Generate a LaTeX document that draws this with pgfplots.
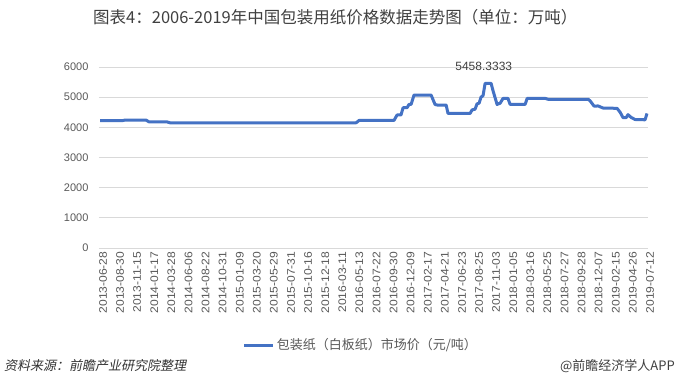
\documentclass[border=0pt]{standalone}
\usepackage{pgfplots}
\pgfplotsset{compat=1.18}
\usepackage{fontspec}
\setmainfont{Liberation Sans}
\newfontfamily\ticksfont[FakeStretch=1.1]{Liberation Sans}
\newfontfamily\cjk{Noto Sans CJK SC}
\newfontfamily\cjkit[FakeSlant=0.2]{Noto Sans CJK SC}
\definecolor{lineblue}{HTML}{4472C4}
\definecolor{gridgray}{HTML}{D9D9D9}
\definecolor{ticktext}{HTML}{595959}
\definecolor{titletext}{HTML}{404040}

\begin{document}
\begin{tikzpicture}
\fill[white] (0,0) rectangle (686pt,389pt);
\path[use as bounding box] (0,0) rectangle (686pt,389pt);
\node[anchor=west, inner sep=0pt, text=titletext, font=\cjk\fontsize{16.5}{18}\selectfont] at (93pt,372pt) {图表4：2006-2019年中国包装用纸价格数据走势图（单位：万吨）};
\begin{axis}[
  at={(99pt,141pt)}, anchor=south west,
  scale only axis, width=549pt, height=181pt,
  xmin=-0.06, xmax=32.06, ymin=0, ymax=6000,
  xtick={0,...,32},
  xticklabels={2013-06-28,2013-08-30,2013-11-15,2014-01-17,2014-03-28,2014-06-06,2014-08-22,2014-10-31,2015-01-09,2015-03-20,2015-05-29,2015-07-31,2015-10-16,2015-12-18,2016-03-11,2016-05-13,2016-07-22,2016-09-30,2016-12-09,2017-02-17,2017-04-21,2017-06-23,2017-08-25,2017-11-03,2018-01-05,2018-03-16,2018-05-25,2018-07-27,2018-09-28,2018-12-07,2019-02-15,2019-04-26,2019-07-12},
  ytick={0,1000,...,6000},
  /pgf/number format/1000 sep={},
  /pgf/number format/assume math mode=true,
  axis line style={draw=none},
  major tick length=0pt,
  ymajorgrids,
  grid style={gridgray, line width=0.8pt},
  xticklabel style={rotate=90, anchor=east, yshift=-3pt, font=\ticksfont\fontsize{11}{12}\selectfont, text=ticktext},
  yticklabel style={xshift=-7pt, font=\fontsize{11}{12}\selectfont, text=ticktext},
  clip=false,
  legend style={at={(0.477,-0.536)}, anchor=center, draw=none, fill=none, inner sep=0pt,
    font=\cjk\fontsize{13}{15}\selectfont, text=ticktext},
  legend image code/.code={\draw[#1] (0pt,0pt) -- (29pt,0pt);},
]
\addplot[lineblue, line width=3pt, line join=round] coordinates {
(0,4220) (1.29,4220) (1.46,4240) (2.69,4240) (2.87,4180) (3.92,4180) (4.10,4150)
(14.98,4150) (15.16,4230) (17.20,4230) (17.38,4410) (17.61,4410) (17.73,4650)
(17.96,4650) (18.08,4760) (18.20,4760) (18.37,5070) (19.37,5070) (19.60,4760)
(19.72,4740) (20.25,4740) (20.36,4460) (21.65,4460) (21.77,4580) (21.94,4600)
(22.06,4780) (22.18,4800) (22.29,5000) (22.41,5050) (22.53,5458.3333) (22.88,5458.3333)
(23.00,5200) (23.23,4760) (23.41,4800) (23.58,4960) (23.87,4960) (23.99,4760)
(24.87,4760) (24.99,4960) (26.04,4960) (26.21,4930) (28.56,4930) (28.67,4880)
(28.91,4700) (29.14,4710) (29.26,4680) (29.43,4640) (30.25,4630) (30.43,4500)
(30.60,4320) (30.78,4320) (30.89,4420) (31.07,4330) (31.30,4260) (31.89,4250)
(32.00,4460)
};
\addlegendentry{包装纸（白板纸）市场价（元/吨）}
\node[font=\fontsize{12}{14}\selectfont, text=titletext] at (axis cs:22.45,5458.3333) [yshift=17pt] {5458.3333};
\end{axis}
\node[anchor=west, inner sep=0pt, font=\cjkit\fontsize{13}{15}\selectfont, text=black!80] at (4pt,23pt) {资料来源：前瞻产业研究院整理};
\node[anchor=east, inner sep=0pt, font=\cjk\fontsize{13}{15}\selectfont, text=titletext] at (675pt,23pt) {@前瞻经济学人APP};
\end{tikzpicture}
\end{document}
